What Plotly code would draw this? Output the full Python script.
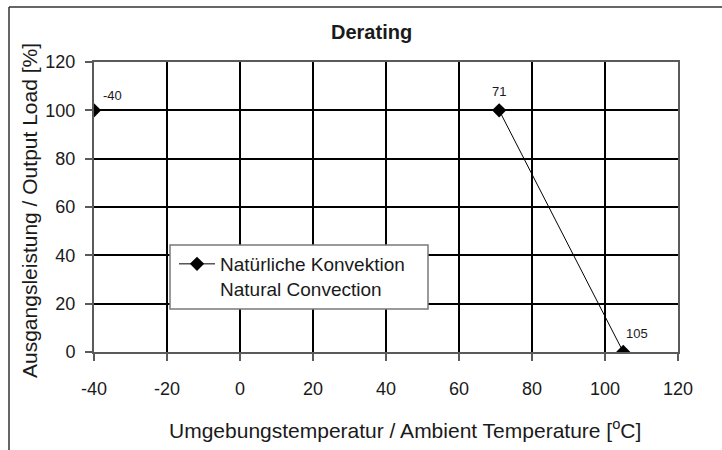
import plotly.graph_objects as go

# Data
temps = [-40, 71, 105]
loads = [100, 100, 0]
point_labels = ["-40", "71", "105"]
label_shift_x = [18, 0, 14]
label_shift_y = [15, 19, 19]
x_ticks = [-40, -20, 0, 20, 40, 60, 80, 100, 120]
x_tick_text = ["-40", "-20", "0", "20", "40", "60", "80", "100", "120"]
y_ticks = [0, 20, 40, 60, 80, 100, 120]
y_tick_text = ["0", "20", "40", "60", "80", "100", "120"]
series_name = "Natürliche Konvektion<br>Natural Convection"
title_text = "Derating"
x_title = "Umgebungstemperatur / Ambient Temperature [<sup>o</sup>C]"
y_title = "Ausgangsleistung / Output Load [%]"

W, H = 722, 450
ML, MR, MT, MB = 94, 44, 62, 98
PW, PH = W - ML - MR, H - MT - MB

def px_x(px):
    return (px - ML) / PW

def px_y(py):
    return (H - MB - py) / PH

FONT = "Liberation Sans"
TXT = "#1a1a1a"
GREY = "#5a5a5a"

fig = go.Figure()
fig.add_trace(go.Scatter(
    x=temps, y=loads, mode="lines+markers", name=series_name,
    line=dict(color="black", width=1),
    marker=dict(symbol="diamond", size=11, color="black"),
    showlegend=True,
))

annotations = []
for xv, yv, t, sx, sy in zip(temps, loads, point_labels, label_shift_x, label_shift_y):
    annotations.append(dict(x=xv, y=yv, xref="x", yref="y", text=t, showarrow=False,
                            xshift=sx, yshift=sy,
                            font=dict(family=FONT, size=13, color=TXT)))

annotations.append(dict(x=px_x(371), y=px_y(32), xref="paper", yref="paper", text="<b>" + title_text + "</b>",
                        showarrow=False, font=dict(family=FONT, size=20, color=TXT),
                        xanchor="center", yanchor="middle"))
annotations.append(dict(x=px_x(405), y=px_y(429), xref="paper", yref="paper", text=x_title,
                        showarrow=False, font=dict(family=FONT, size=21, color=TXT),
                        xanchor="center", yanchor="middle"))
annotations.append(dict(x=px_x(29), y=px_y(211), xref="paper", yref="paper", text=y_title,
                        showarrow=False, textangle=-90, font=dict(family=FONT, size=21, color=TXT),
                        xanchor="center", yanchor="middle"))

shapes = [
    dict(type="line", xref="paper", yref="paper", x0=px_x(9), x1=px_x(9), y0=px_y(7), y1=px_y(460),
         line=dict(color="#333", width=1.5)),
    dict(type="line", xref="paper", yref="paper", x0=px_x(9), x1=px_x(730), y0=px_y(7), y1=px_y(7),
         line=dict(color="#333", width=1.5)),
    # legend box
    dict(type="rect", xref="paper", yref="paper", x0=px_x(170), x1=px_x(428), y0=px_y(245), y1=px_y(309),
         fillcolor="white", line=dict(color="#7a7a7a", width=1.5), layer="above"),
]

axis_common = dict(
    showgrid=True, gridcolor="black", gridwidth=2,
    showline=True, linecolor=GREY, linewidth=2, mirror=True,
    ticks="outside", ticklen=7, tickwidth=1.5, tickcolor=GREY,
    tickfont=dict(family=FONT, size=18, color=TXT),
    zeroline=False, layer="above traces",
)

fig.update_layout(
    width=W, height=H,
    margin=dict(l=ML, r=MR, t=MT, b=MB),
    paper_bgcolor="white", plot_bgcolor="white",
    xaxis=dict(range=[-40, 120], tickvals=x_ticks, ticktext=x_tick_text, ticklabelstandoff=12, **axis_common),
    yaxis=dict(range=[0, 120], tickvals=y_ticks, ticktext=y_tick_text, ticklabelstandoff=6, **axis_common),
    legend=dict(x=px_x(174), y=px_y(245), xanchor="left", yanchor="top",
                bgcolor="rgba(0,0,0,0)", borderwidth=0, itemwidth=36,
                font=dict(family=FONT, size=19, color=TXT), valign="top"),
    annotations=annotations,
    shapes=shapes,
    showlegend=True,
)

fig.write_html("out.html", config={"displayModeBar": False},
               post_script="document.body.style.margin='0';document.body.style.overflow='hidden';")
